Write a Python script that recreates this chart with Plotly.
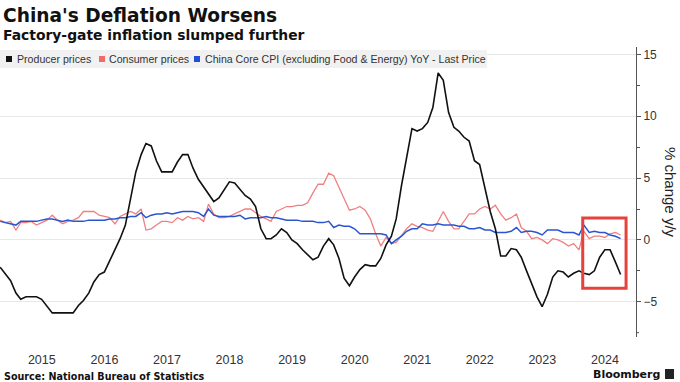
import pandas as pd
import plotly.graph_objects as go

# Monthly data, Oct 2014 - Sep 2024 (month-end)
dates = pd.date_range("2014-10-31", periods=120, freq="ME")

producer_prices = [
    -2.2, -2.7, -3.3,
    -4.3, -4.8, -4.6, -4.6, -4.6, -4.8, -5.4, -5.9, -5.9, -5.9, -5.9, -5.9,
    -5.3, -4.9, -4.3, -3.4, -2.8, -2.6, -1.7, -0.8, 0.1, 1.2, 3.3, 5.5,
    6.9, 7.8, 7.6, 6.4, 5.5, 5.5, 5.5, 6.3, 6.9, 6.9, 5.8, 4.9,
    4.3, 3.7, 3.1, 3.4, 4.1, 4.7, 4.6, 4.1, 3.6, 3.3, 2.7, 0.9,
    0.1, 0.1, 0.4, 0.9, 0.6, 0.0, -0.3, -0.8, -1.2, -1.6, -1.4, -0.5,
    0.1, -0.4, -1.5, -3.1, -3.7, -3.0, -2.4, -2.0, -2.1, -2.1, -1.5, -0.4,
    0.3, 1.7, 4.4, 6.8, 9.0, 8.8, 9.0, 9.5, 10.7, 13.5, 12.9, 10.3,
    9.1, 8.8, 8.3, 8.0, 6.4, 6.1, 4.2, 2.3, 0.9, -1.3, -1.3, -0.7,
    -0.8, -1.4, -2.5, -3.6, -4.6, -5.4, -4.4, -3.0, -2.5, -2.6, -3.0, -2.7,
    -2.5, -2.7, -2.8, -2.5, -1.4, -0.8, -0.8, -1.8, -2.8,
]

consumer_prices = [
    1.6, 1.4, 1.5,
    0.8, 1.4, 1.4, 1.5, 1.2, 1.4, 1.6, 2.0, 1.6, 1.3, 1.5, 1.6,
    1.8, 2.3, 2.3, 2.3, 2.0, 1.9, 1.8, 1.3, 1.9, 2.1, 2.3, 2.1,
    2.5, 0.8, 0.9, 1.2, 1.5, 1.5, 1.4, 1.8, 1.6, 1.9, 1.7, 1.8,
    1.5, 2.9, 2.1, 1.8, 1.8, 1.9, 2.1, 2.3, 2.5, 2.5, 2.2, 1.9,
    1.7, 1.5, 2.3, 2.5, 2.7, 2.7, 2.8, 2.8, 3.0, 3.8, 4.5, 4.5,
    5.4, 5.2, 4.3, 3.3, 2.4, 2.5, 2.7, 2.4, 1.7, 0.5, -0.5, 0.2,
    -0.3, -0.2, 0.4, 0.9, 1.3, 1.1, 1.0, 0.8, 0.7, 1.5, 2.3, 1.5,
    0.9, 0.9, 1.5, 2.1, 2.1, 2.5, 2.7, 2.5, 2.8, 2.1, 1.6, 1.8,
    2.1, 1.0, 0.7, 0.1, 0.2, 0.0, -0.3, 0.1, 0.0, -0.2, -0.5, -0.3,
    -0.8, 0.7, 0.1, 0.3, 0.3, 0.2, 0.5, 0.6, 0.4,
]

core_cpi = [
    1.5, 1.4, 1.3,
    1.2, 1.5, 1.5, 1.5, 1.5, 1.6, 1.7, 1.7, 1.6, 1.5, 1.6, 1.5,
    1.5, 1.5, 1.6, 1.6, 1.6, 1.6, 1.7, 1.7, 1.8, 1.8, 1.9, 1.9,
    2.2, 1.8, 2.0, 2.1, 2.1, 2.2, 2.1, 2.2, 2.3, 2.3, 2.3, 2.2,
    1.9, 2.5, 2.0, 1.9, 1.9, 1.9, 1.9, 2.0, 1.7, 1.8, 1.8, 1.8,
    1.9, 1.8, 1.8, 1.7, 1.6, 1.6, 1.6, 1.5, 1.5, 1.5, 1.4, 1.4,
    1.5, 1.0, 1.2, 1.1, 1.1, 0.9, 0.5, 0.5, 0.5, 0.5, 0.5, 0.4,
    -0.3, 0.0, 0.3, 0.7, 0.9, 0.9, 1.3, 1.2, 1.2, 1.3, 1.2, 1.2,
    1.2, 1.1, 1.1, 0.9, 0.9, 1.0, 0.8, 0.8, 0.6, 0.6, 0.6, 0.7,
    1.0, 0.6, 0.7, 0.7, 0.6, 0.4, 0.8, 0.8, 0.8, 0.6, 0.6, 0.6,
    0.4, 1.2, 0.6, 0.7, 0.6, 0.6, 0.4, 0.3, 0.1,
]

year_labels = ["2015", "2016", "2017", "2018", "2019", "2020", "2021", "2022", "2023", "2024"]
year_ticks = [pd.Timestamp(f"{y}-07-01") for y in year_labels]
y_ticks = [-5, 0, 5, 10, 15]

legend_names = ["Producer prices", "Consumer prices",
                "China Core CPI (excluding Food & Energy) YoY - Last Price"]
legend_colors = ["#111111", "#f26b6b", "#1f4fd8"]

fig = go.Figure()
fig.add_trace(go.Scatter(x=dates, y=consumer_prices, mode="lines",
                         line=dict(color="#f08080", width=1.3), showlegend=False))
fig.add_trace(go.Scatter(x=dates, y=core_cpi, mode="lines",
                         line=dict(color="#2a55cf", width=1.5), showlegend=False))
fig.add_trace(go.Scatter(x=dates, y=producer_prices, mode="lines",
                         line=dict(color="#111111", width=1.6), showlegend=False))

W, H = 680, 382
PL, PR, PT, PB = 0, 636, 47, 337

def px(x):
    return (x - PL) / (PR - PL)

def py(y):
    return (PB - y) / (PB - PT)

shapes = []
annotations = []

# legend background
shapes.append(dict(type="rect", xref="paper", yref="paper",
                   x0=px(0), x1=px(487), y0=py(68), y1=py(50),
                   fillcolor="#f1f1f1", line=dict(width=0), layer="above"))
leg_sq = [6, 99, 194]
leg_tx = [15, 107, 203]
for sx, tx, name, col in zip(leg_sq, leg_tx, legend_names, legend_colors):
    shapes.append(dict(type="rect", xref="paper", yref="paper",
                       x0=px(sx), x1=px(sx + 6), y0=py(62), y1=py(56),
                       fillcolor=col, line=dict(width=0), layer="above"))
    annotations.append(dict(text=name, xref="paper", yref="paper",
                            x=px(tx), y=py(59), xanchor="left", yanchor="middle",
                            showarrow=False,
                            font=dict(family="Liberation Sans", size=10.6, color="#333333")))

# highlight box
shapes.append(dict(type="rect", xref="x", yref="y",
                   x0="2024-02-22", x1="2024-11-01", y0=-3.9, y1=1.78,
                   line=dict(color="#e8413c", width=3), fillcolor="rgba(0,0,0,0)",
                   layer="above"))

# bottom end tick of the axis
shapes.append(dict(type="line", xref="paper", yref="y",
                   x0=1, x1=px(639), y0=-7.5, y1=-7.5,
                   line=dict(color="#555555", width=1)))

annotations += [
    dict(text="<b>China's Deflation Worsens</b>", xref="paper", yref="paper",
         x=px(1), y=py(16), xanchor="left", yanchor="middle", showarrow=False,
         font=dict(family="DejaVu Sans", size=18.6, color="#111111")),
    dict(text="<b>Factory-gate inflation slumped further</b>", xref="paper", yref="paper",
         x=px(1), y=py(35), xanchor="left", yanchor="middle", showarrow=False,
         font=dict(family="DejaVu Sans", size=13.9, color="#111111")),
    dict(text="<b>Source: National Bureau of Statistics</b>", xref="paper", yref="paper",
         x=px(2), y=py(376), xanchor="left", yanchor="middle", showarrow=False,
         font=dict(family="DejaVu Sans", size=9.6, color="#111111")),
    dict(text="<b>Bloomberg</b>", xref="paper", yref="paper",
         x=px(662), y=py(374), xanchor="right", yanchor="middle", showarrow=False,
         font=dict(family="DejaVu Sans", size=11, color="#111111")),
    dict(text="% change y/y", xref="paper", yref="paper",
         x=px(671), y=py(192), xanchor="center", yanchor="middle", showarrow=False,
         textangle=90,
         font=dict(family="Liberation Sans", size=15, color="#222222")),
]

# Bloomberg icon
shapes.append(dict(type="rect", xref="paper", yref="paper",
                   x0=px(665), x1=px(674), y0=py(379), y1=py(369),
                   fillcolor="#222222", line=dict(width=0)))

fig.update_layout(
    width=W, height=H,
    margin=dict(l=PL, r=W - PR, t=PT, b=H - PB),
    paper_bgcolor="white", plot_bgcolor="white",
    showlegend=False,
    shapes=shapes, annotations=annotations,
    xaxis=dict(range=["2014-10-30", "2024-12-29"], tickvals=year_ticks,
               ticktext=year_labels, ticks="outside", ticklen=11,
               tickcolor="rgba(0,0,0,0)", showgrid=False, zeroline=False,
               showline=False,
               tickfont=dict(family="Liberation Sans", size=12.5, color="#333333")),
    yaxis=dict(side="right", range=[-7.85, 15.6], tickvals=y_ticks,
               ticks="outside", ticklen=4, tickcolor="#555555",
               showline=True, linecolor="#555555", linewidth=1,
               showgrid=True, gridcolor="#e8e8e8", gridwidth=1, zeroline=False,
               minor=dict(tickvals=[-2.5, 2.5, 7.5, 12.5], ticks="outside",
                          ticklen=3, tickcolor="#555555", showgrid=False),
               tickfont=dict(family="Liberation Sans", size=12, color="#333333")),
)

fig.write_html("out.html", config={"displayModeBar": False},
               post_script="document.body.style.margin='0';")
